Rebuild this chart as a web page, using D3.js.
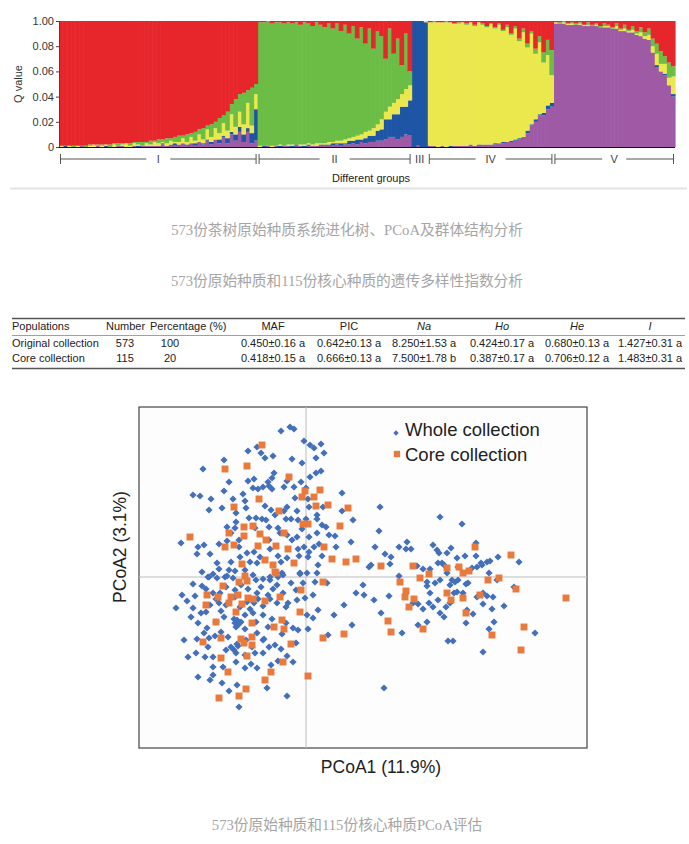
<!DOCTYPE html>
<html>
<head>
<meta charset="utf-8">
<script src="https://cdn.jsdelivr.net/npm/d3@7"></script>
<style>
  body { margin: 0; background: #fff; }
  svg text { font-family: 'Liberation Sans', Arial, sans-serif; }
  .caption { font-family: 'Liberation Serif', 'Noto Sans CJK SC', serif; fill: #a5a5a5; font-size: 14.7px; }
</style>
</head>
<body>
<script>
// ---------------- data ----------------
// structure plot: every row is one individual, membership (%) in clusters [r, g, y, b, p]
const clusterKeys = ['p', 'b', 'y', 'g', 'r']; // stacking order, bottom -> top
const clusterColors = { r: '#E6262B', g: '#6BBD45', y: '#EAE84C', b: '#1F55A5', p: '#9F5AA5' };
const groupNames = ['I', 'II', 'III', 'IV', 'V'];
const qTickValues = [0, 0.2, 0.4, 0.6, 0.8, 1];
const qTickLabels = ['0', '0.02', '0.04', '0.06', '0.08', '1.00'];

const groupI = [
  [99,0,1,0,0],[99,0,0,1,0],[99,0,1,0,0],[99,1,0,0,0],[99,0,1,0,0],[99,0,0,0,1],[99,1,0,0,0],
  [98,1,1,0,0],[98,0,2,0,0],[98,1,0,0,1],[98,1,1,0,0],[98,0,1,1,0],[98,2,0,0,0],
  [97,1,2,0,0],[97,2,0,0,1],[97,1,1,0,1],[97,0,3,0,0],[97,2,1,0,0],
  [96,1,2,0,1],[96,2,1,1,0],[96,3,0,0,1],[96,1,2,0,1],[95,3,1,0,1],[95,1,3,0,1],
  [94,3,2,0,1],[94,2,1,1,2],[93,4,2,0,1],[93,2,3,0,2],[92,4,1,2,1],[91,5,2,0,2],[91,2,4,0,3],
  [90,6,2,1,1],[89,3,5,0,3],[88,7,2,2,1],[86,4,6,0,4],[85,9,3,1,2],[83,3,8,1,5],[82,10,4,2,2],
  [80,5,9,0,6],[77,12,5,3,3],[75,6,10,1,8],[72,15,6,4,3],[66,8,14,2,10],[62,22,6,5,5],
  [58,14,12,4,12],[57,25,8,6,4],[55,10,20,3,12],[53,30,6,8,3],[50,8,12,25,5]
];
const groupII = [
  [1,98,1,0,0],[1,98,0,1,0],[0,99,0,0,1],[2,97,1,0,0],[1,98,0,0,1],[1,97,1,1,0],[2,97,0,0,1],
  [1,97,1,0,1],[2,96,1,1,0],[1,97,0,1,1],[3,95,1,0,1],[1,97,1,1,0],[2,95,1,1,1],[4,94,1,0,1],
  [1,96,2,0,1],[3,94,1,1,1],[5,92,1,1,1],[2,94,2,1,1],[6,90,1,2,1],[2,93,2,1,2],[8,87,2,2,1],
  [3,91,3,1,2],[10,83,2,3,2],[4,88,3,2,3],[14,77,3,4,2],[5,85,4,2,4],[18,70,5,4,3],[6,81,4,5,4],
  [22,63,6,5,4],[8,74,5,8,5],[12,66,8,9,5],[30,42,6,16,6],[6,62,10,14,8],[26,39,9,18,8],
  [14,48,12,20,6],[35,23,10,24,8],[10,44,14,22,10],[40,11,12,28,9]
];
const groupIII = [[0,0,0,100,0],[0,0,0,99,1],[0,0,0,100,0],[0,0,1,99,0]];
const groupIV = [
  [1,0,98,0,1],[0,1,98,0,1],[1,0,99,0,0],[1,0,98,0,1],[0,1,99,0,0],[1,0,98,1,0],[2,0,97,0,1],
  [1,1,97,0,1],[1,0,98,0,1],[2,1,96,0,1],[1,0,97,0,2],[3,1,95,0,1],[1,0,97,1,1],[2,1,95,0,2],
  [4,1,93,0,2],[2,0,96,0,2],[5,1,91,1,2],[2,1,94,0,3],[7,1,88,1,3],[3,2,91,0,4],[10,1,84,1,4],
  [4,2,88,1,5],[14,2,77,1,6],[6,3,83,0,8],[18,3,66,2,11],[8,2,72,1,17],[22,4,52,2,20],
  [12,5,57,1,25],[25,8,40,2,25],[15,12,40,3,30],[23,20,22,3,32]
];
const groupV = [
  [1,0,1,0,98],[1,1,0,0,98],[0,1,1,0,98],[2,0,1,0,97],[1,1,1,0,97],[2,1,0,0,97],[1,1,1,0,97],
  [3,0,1,0,96],[1,2,1,0,96],[3,1,0,0,96],[2,1,1,0,96],[4,1,0,0,95],[2,2,1,0,95],[3,1,1,0,95],
  [5,1,0,0,94],[2,2,2,0,94],[6,1,1,0,92],[3,3,2,0,92],[7,1,1,0,91],[4,3,2,0,91],[8,2,1,0,89],
  [5,4,3,0,88],[9,3,2,0,86],[6,5,4,0,85],[14,6,5,0,75],[18,8,9,2,63],[24,10,6,0,60],
  [28,6,8,1,57],[33,12,6,0,49],[36,8,14,2,40]
];

// table
const tableHeader = ['Populations', 'Number', 'Percentage (%)', 'MAF', 'PIC', 'Na', 'Ho', 'He', 'I'];
const italicHeaders = ['Na', 'Ho', 'He', 'I'];
const originalRow = ['Original collection', '573', '100', '0.450±0.16 a', '0.642±0.13 a', '8.250±1.53 a', '0.424±0.17 a', '0.680±0.13 a', '1.427±0.31 a'];
const coreRow = ['Core collection', '115', '20', '0.418±0.15 a', '0.666±0.13 a', '7.500±1.78 b', '0.387±0.17 a', '0.706±0.12 a', '1.483±0.31 a'];

// PCoA scores (PCoA1, PCoA2)
const wholeCollection = [
  [-1.6,15.0],[-1.2,14.8],[-2.5,14.6],[-0.2,13.6],[0.4,13.2],[0.8,12.9],[1.5,13.3],[1.8,12.4],[-4.9,13.0],[-4.5,12.4],
  [-5.8,12.6],[-4.1,11.9],[-3.3,12.1],[-1.4,11.8],[-0.4,11.4],[1.0,11.9],[-8.2,11.7],[-10.3,10.8],[1.5,10.6],[1.0,10.4],
  [0.4,10.0],[-0.5,9.5],[0.0,8.9],[-3.2,10.4],[-3.4,9.9],[-3.8,9.5],[-5.2,9.8],[-5.8,9.6],[-7.7,9.5],[-8.2,8.6],
  [-11.3,8.2],[-10.6,8.1],[-9.5,7.8],[-9.7,6.7],[-8.4,6.9],[-7.3,7.8],[-6.3,8.3],[-6.1,7.6],[-5.3,8.9],[-4.8,8.8],
  [-4.3,9.0],[-3.7,9.1],[-3.4,8.8],[-2.2,9.0],[-1.9,9.6],[-1.2,9.0],[-1.1,7.9],[0.2,7.8],[0.3,7.0],[1.7,7.0],
  [1.1,6.2],[1.1,5.8],[1.6,5.2],[2.0,5.0],[3.6,8.4],[3.6,6.6],[2.9,4.1],[4.5,3.5],[-4.1,7.1],[-3.5,6.7],
  [-3.1,6.2],[-2.2,6.6],[-1.9,7.0],[-2.0,5.8],[-1.5,5.8],[-0.9,6.6],[-0.8,5.7],[0.0,5.8],[-6.0,6.9],[-5.7,5.9],
  [-5.0,5.9],[-4.4,5.8],[-4.0,5.7],[-7.0,6.4],[-7.0,5.5],[-7.1,4.9],[-7.9,5.0],[-7.5,4.4],[-6.7,3.7],[-5.1,4.9],
  [-3.7,5.0],[-2.8,4.9],[-2.6,4.4],[-1.9,4.2],[-1.4,3.7],[-0.9,4.0],[-0.4,4.8],[0.3,4.0],[1.1,4.4],[1.3,3.3],
  [0.8,3.0],[0.3,2.5],[-0.2,3.0],[-12.5,3.4],[-10.8,3.0],[-10.2,3.2],[-10.9,2.3],[-9.6,2.3],[-8.7,3.3],[-7.9,3.6],
  [-6.7,3.0],[-8.9,1.4],[-8.7,0.8],[-7.5,1.5],[-6.6,2.0],[-5.9,2.4],[-5.2,2.5],[-4.9,1.4],[-3.7,3.7],[-3.6,2.8],
  [-2.8,2.1],[-2.5,1.5],[-1.9,1.9],[-0.8,2.8],[-0.6,0.4],[-2.4,0.4],[-3.6,0.0],[-5.3,0.2],[-6.1,0.7],[-7.1,0.6],
  [-8.1,0.0],[-9.8,0.0],[-10.4,0.5],[-9.3,0.3],[-7.7,0.7],[-4.6,2.0],[-5.6,1.5],[-0.7,2.1],[0.2,2.0],[1.6,2.1],
  [1.2,1.2],[1.1,0.4],[0.1,0.4],[2.3,4.2],[3.0,3.0],
  [-9.7,0.0],[-8.9,-0.1],[-7.9,0.1],[-7.3,-0.1],[-5.0,-0.3],[-4.3,-0.2],[-3.6,-0.3],[-2.3,0.2],[-0.6,0.3],[0.9,-0.5],
  [2.1,-0.6],[5.0,-1.6],[-11.3,-0.7],[-10.4,-0.9],[-12.4,-1.8],[-11.1,-1.9],[-9.3,-1.6],[-8.6,-1.6],[-7.1,-1.3],[-4.9,-1.6],
  [-3.8,-1.8],[-2.9,-0.8],[-1.5,-0.6],[0.7,-1.8],[-13.0,-3.1],[-11.3,-3.1],[-10.5,-3.6],[-9.6,-2.8],[-8.7,-2.6],[-7.1,-2.0],
  [-5.9,-2.5],[-5.2,-2.6],[-4.3,-2.9],[-2.9,-2.6],[-1.8,-2.6],[-0.9,-2.3],[-0.1,-2.1],[-11.5,-4.0],[-10.8,-4.6],[-9.9,-5.1],
  [-9.0,-4.5],[-8.2,-4.0],[-7.2,-4.2],[-6.9,-4.3],[-6.1,-3.8],[-5.3,-3.6],[-4.3,-3.8],[-3.4,-4.2],[-2.0,-3.0],[0.1,-3.8],
  [0.7,-4.1],[1.2,-3.3],[2.8,-3.8],[3.8,-2.8],[4.6,-4.8],[-12.2,-6.3],[-10.9,-6.2],[-9.7,-6.1],[-9.1,-5.9],[-7.5,-7.0],
  [-6.9,-6.7],[-6.1,-5.2],[-4.9,-5.6],[-4.3,-6.3],[-3.7,-7.0],[-3.1,-6.8],[-2.4,-5.7],[-1.3,-5.1],[-0.8,-5.3],[0.2,-5.2],
  [2.2,-5.8],[-11.8,-8.0],[-11.0,-7.6],[-10.1,-8.0],[-9.3,-8.0],[-8.0,-7.3],[-7.2,-7.3],[-6.1,-7.8],[-5.1,-7.6],[-4.2,-6.2],
  [-2.8,-8.4],[-1.9,-7.9],[-1.3,-8.5],[-9.3,-9.0],[-8.3,-9.0],[-6.1,-9.1],[-4.9,-9.1],[-10.8,-10.0],[-9.3,-9.8],[-8.4,-10.6],
  [-7.7,-11.4],[-6.9,-10.8],[-3.9,-11.1],[-1.9,-11.9],[-6.7,-13.0],[-9.6,-10.3],[-0.3,-0.6],[-2.8,0.0],
  [-7.1,-4.6],[-6.8,-4.8],[-7.0,-5.0],[-6.5,-4.5],[-7.0,-7.6],[-6.8,-6.9],[-8.0,-1.0],[-6.5,-0.8],[-5.8,-1.2],[-4.5,-1.0],
  [-3.3,-1.2],[-10.0,-1.2],[-9.0,-2.2],[-8.0,-2.8],[-6.6,-3.0],[-5.6,-3.2],[-4.8,-2.2],[-3.6,-2.2],[-2.3,-1.6],[-1.0,-1.3],
  [-11.9,-2.4],[-10.0,-3.5],[-8.5,-3.4],[-5.0,-4.5],[-3.8,-5.0],[-2.0,-4.6],[-8.5,-5.5],[-10.2,-5.6],[-6.0,-6.3],[-7.8,-6.0],
  [-5.4,-7.0],[-4.3,-7.6],[-2.5,-7.2],[-1.0,-6.6],[-9.8,-7.0],[-7.0,-8.5],[-5.5,-8.7],[-3.5,-8.8],
  [4.7,5.7],[7.4,7.0],[7.3,4.6],[6.9,3.0],[7.9,2.3],[8.5,2.0],[8.4,1.3],[6.5,1.2],[6.3,1.0],[9.3,3.0],
  [10.1,3.5],[10.5,2.8],[10.0,2.8],[13.4,6.0],[15.6,5.3],[12.7,3.2],[13.1,2.7],[13.3,2.4],[14.1,2.4],[14.5,2.9],
  [15.1,1.9],[15.9,2.1],[17.0,3.4],[17.0,2.1],[17.5,1.4],[18.1,1.5],[18.4,1.6],[19.2,2.0],[21.3,1.5],[9.3,0.1],
  [11.1,1.1],[11.7,0.8],[12.1,-0.5],[12.4,0.8],[12.9,-0.6],[13.2,1.4],[13.6,1.4],[13.8,1.2],[14.1,0.4],[14.6,-0.3],
  [14.4,-0.8],[14.9,-0.5],[15.2,-0.3],[16.0,-0.7],[16.2,-0.6],[16.6,0.9],[17.1,1.0],[17.6,1.2],[18.3,0.4],[19.1,-0.3],
  [20.8,-1.0],[5.7,-0.8],[5.8,-1.8],[6.8,-2.3],[8.3,-1.9],[7.5,-3.6],[9.6,-5.6],[11.2,-2.7],[11.7,-3.2],[12.1,-0.9],
  [12.4,-1.6],[12.3,-2.6],[12.7,-3.0],[13.2,-2.3],[13.4,-3.6],[13.8,-4.0],[14.0,-3.0],[14.4,-2.6],[14.8,-1.6],[15.1,-1.5],
  [15.7,-1.6],[16.1,-3.3],[16.0,-4.6],[16.7,-3.7],[17.1,-2.0],[17.7,-2.7],[17.7,-1.6],[18.1,-1.9],[18.7,-2.0],[18.6,-3.2],
  [18.8,-4.5],[18.3,-5.2],[19.8,-2.9],[22.9,-5.6],[14.2,-6.4],[14.7,-6.4],[17.7,-7.5],[7.8,-11.1],[10.7,-2.6],[11.2,-4.8],
  [12.1,-4.5],[13.4,-0.3],[15.2,1.0]
];
const coreCollection = [
  [-4.4,13.2],[-5.9,11.1],[-8.1,10.8],[-1.7,10.0],[-0.1,8.6],[1.4,8.7],[-0.4,8.0],[0.8,8.0],[-4.7,7.8],[-7.2,7.0],
  [1.0,7.1],[2.2,7.2],[4.2,6.9],[-2.7,6.6],[-6.2,5.0],[-5.3,5.1],[-0.3,5.3],[0.2,5.3],[3.4,5.1],[-7.7,4.4],
  [-6.2,4.1],[-4.6,4.3],[-4.0,3.7],[-2.2,4.4],[-11.6,4.0],[-8.1,3.0],[-7.2,3.2],[-4.8,3.1],[-3.0,3.1],[-1.8,2.8],
  [1.8,3.0],[2.6,1.8],[4.0,1.5],[5.0,1.8],[-6.4,1.3],[-4.1,1.7],[-3.3,1.2],[-1.2,1.4],[-3.1,0.5],[-6.1,0.1],
  [-3.0,0.4],[-6.7,-0.5],[-5.9,-0.4],[-8.3,-0.9],[-9.9,-1.8],[-8.8,-2.0],[-7.5,-2.0],[-6.8,-1.8],[-5.8,-2.1],[-5.3,-2.2],
  [-4.1,-2.4],[-2.6,-2.0],[-0.5,-1.3],[1.7,-0.5],[-10.0,-2.8],[-7.7,-2.6],[-6.4,-2.7],[-7.0,-3.5],[-9.0,-4.5],[-5.4,-4.6],
  [-2.4,-4.3],[-3.2,-5.0],[-2.2,-5.2],[3.8,-5.7],[1.7,-6.1],[-10.3,-6.5],[-8.5,-6.1],[-6.5,-6.2],[-6.2,-6.6],[-5.4,-6.0],
  [-5.4,-6.8],[-1.5,-6.7],[-5.9,-7.9],[-8.5,-8.1],[-2.3,-8.5],[-7.8,-9.5],[-3.5,-9.5],[-4.1,-10.3],[0.2,-9.9],[-6.0,-11.2],
  [-8.7,-12.1],[-6.7,-11.9],[-0.6,-3.5],
  [7.5,1.1],[10.7,1.1],[11.4,-0.1],[12.3,0.3],[14.1,0.9],[15.3,1.0],[15.7,0.4],[16.3,0.6],[16.9,3.0],[18.2,-0.3],
  [19.3,-0.1],[20.5,2.2],[21.0,-1.2],[9.4,-0.5],[10.0,-1.4],[9.9,-2.0],[10.8,-2.2],[10.3,-3.0],[8.2,-4.4],[8.5,-5.5],
  [11.7,-5.2],[14.1,-1.6],[14.5,-2.3],[15.7,-2.1],[16.0,-3.6],[17.4,-1.8],[18.6,-5.8],[21.8,-5.0],[21.5,-7.3],[26.0,-2.1]
];
const legendLabels = ['Whole collection', 'Core collection'];
const captions = [
  '573份茶树原始种质系统进化树、PCoA及群体结构分析',
  '573份原始种质和115份核心种质的遗传多样性指数分析',
  '573份原始种质和115份核心种质PCoA评估'
];

// ---------------- svg ----------------
const svg = d3.select('body')
  .append('svg')
  .attr('width', 689)
  .attr('height', 844);

// ================= structure plot =================
const groups = [groupI, groupII, groupIII, groupIV, groupV];
const rows = [];
groups.forEach((g, gi) => g.forEach(q => {
  const total = d3.sum(q);
  rows.push({ id: rows.length, group: gi, r: q[0] / total, g: q[1] / total, y: q[2] / total, b: q[3] / total, p: q[4] / total });
}));

const qx = d3.scaleBand()
  .domain(rows.map(d => d.id))
  .range([59, 675]);
const qy = d3.scaleLinear()
  .domain([0, 1])
  .range([147, 21]);

const series = d3.stack().keys(clusterKeys)(rows);

svg.append('g')
  .selectAll('g')
  .data(series)
  .enter()
  .append('g')
  .attr('fill', s => clusterColors[s.key])
  .selectAll('rect')
  .data(s => s)
  .enter()
  .append('rect')
  .attr('x', d => qx(d.data.id))
  .attr('width', qx.bandwidth() + 0.6) // little overlap so no white seams
  .attr('y', d => qy(d[1]))
  .attr('height', d => Math.max(0, qy(d[0]) - qy(d[1])));

// axes
const qAxis = d3.axisLeft(qy)
  .tickValues(qTickValues)
  .tickFormat((d, i) => qTickLabels[i])
  .tickSize(3)
  .tickPadding(2);
const qAxisGroup = svg.append('g')
  .attr('transform', 'translate(59, 0)')
  .call(qAxis);
qAxisGroup.selectAll('text').attr('font-size', 11).attr('fill', '#333');
qAxisGroup.selectAll('line, path').attr('stroke', '#444');

svg.append('line')
  .attr('x1', 59).attr('x2', 675)
  .attr('y1', qy(0) + 0.5).attr('y2', qy(0) + 0.5)
  .attr('stroke', '#111').attr('stroke-width', 1.2);

svg.append('text')
  .attr('transform', `translate(22, ${qy(0.5)}) rotate(-90)`)
  .attr('text-anchor', 'middle')
  .attr('font-size', 11)
  .attr('fill', '#333')
  .text('Q value');

// group brackets under the bars (group III is too narrow: label only)
const bracketY = 159;
const brackets = svg.append('g').attr('stroke', '#555').attr('stroke-width', 1);
groupNames.forEach((name, gi) => {
  const ids = rows.filter(d => d.group === gi).map(d => d.id);
  const x0 = qx(ids[0]) + 1.5;
  const x1 = qx(ids[ids.length - 1]) + qx.bandwidth() - 1.5;
  const cx = (x0 + x1) / 2;
  const gap = name.length * 3 + 9;
  if (x1 - x0 > 2 * gap) {
    brackets.append('line').attr('x1', x0).attr('x2', x0).attr('y1', bracketY - 5).attr('y2', bracketY + 5);
    brackets.append('line').attr('x1', x1).attr('x2', x1).attr('y1', bracketY - 5).attr('y2', bracketY + 5);
    brackets.append('line').attr('x1', x0).attr('x2', cx - gap).attr('y1', bracketY).attr('y2', bracketY);
    brackets.append('line').attr('x1', cx + gap).attr('x2', x1).attr('y1', bracketY).attr('y2', bracketY);
  }
  svg.append('text')
    .attr('x', cx).attr('y', bracketY + 4)
    .attr('text-anchor', 'middle')
    .attr('font-size', 11)
    .attr('fill', '#444')
    .text(name);
});

svg.append('text')
  .attr('x', 371).attr('y', 182)
  .attr('text-anchor', 'middle')
  .attr('font-size', 11)
  .attr('fill', '#222')
  .text('Different groups');

// separator
svg.append('line')
  .attr('x1', 10).attr('x2', 687)
  .attr('y1', 188.5).attr('y2', 188.5)
  .attr('stroke', '#e3e3e3').attr('stroke-width', 2);

// captions
const captionY = [235, 286, 830];
captions.forEach((c, i) => {
  svg.append('text')
    .attr('class', 'caption')
    .attr('x', 347).attr('y', captionY[i])
    .attr('text-anchor', 'middle')
    .text(c);
});

// ================= table =================
const table = svg.append('g').attr('font-size', 11).attr('fill', '#222');
const colX = [12, 125, 170, 273, 349, 424, 502, 577, 650];
const colAnchor = ['start', 'middle', 'middle', 'middle', 'middle', 'middle', 'middle', 'middle', 'middle'];
const headerX = [12, 106, 150, 273, 349, 424, 502, 577, 650];
const headerAnchor = ['start', 'start', 'start', 'middle', 'middle', 'middle', 'middle', 'middle', 'middle'];

table.append('line').attr('x1', 12).attr('x2', 685).attr('y1', 318.5).attr('y2', 318.5)
  .attr('stroke', '#555').attr('stroke-width', 1.3);
table.append('line').attr('x1', 12).attr('x2', 685).attr('y1', 335.5).attr('y2', 335.5)
  .attr('stroke', '#888').attr('stroke-width', 0.8);
table.append('line').attr('x1', 12).attr('x2', 685).attr('y1', 368.5).attr('y2', 368.5)
  .attr('stroke', '#555').attr('stroke-width', 1.3);

tableHeader.forEach((h, i) => {
  table.append('text')
    .attr('x', headerX[i]).attr('y', 330)
    .attr('text-anchor', headerAnchor[i])
    .attr('font-style', italicHeaders.includes(h) ? 'italic' : 'normal')
    .text(h);
});
[originalRow, coreRow].forEach((row, ri) => {
  row.forEach((v, i) => {
    table.append('text')
      .attr('x', colX[i]).attr('y', 347 + ri * 15)
      .attr('text-anchor', colAnchor[i])
      .text(v);
  });
});

// ================= PCoA scatter =================
const frame = { left: 139, right: 587, top: 407, bottom: 748 };
const px = d3.scaleLinear()
  .domain([-16.7, 28.1])
  .range([frame.left, frame.right]);
const py = d3.scaleLinear()
  .domain([-17.1, 17.0])
  .range([frame.bottom, frame.top]);

svg.append('rect')
  .attr('x', frame.left).attr('y', frame.top)
  .attr('width', frame.right - frame.left).attr('height', frame.bottom - frame.top)
  .attr('fill', '#fdfdfd')
  .attr('stroke', '#444').attr('stroke-width', 1.2);

// zero lines
svg.append('line')
  .attr('x1', px(0)).attr('x2', px(0))
  .attr('y1', frame.top).attr('y2', frame.bottom)
  .attr('stroke', '#bdbdbd');
svg.append('line')
  .attr('x1', frame.left).attr('x2', frame.right)
  .attr('y1', py(0)).attr('y2', py(0))
  .attr('stroke', '#bdbdbd');

const diamond = d3.symbol(d3.symbolSquare, 26);
const square = d3.symbol(d3.symbolSquare, 48);

svg.append('g')
  .selectAll('path')
  .data(wholeCollection)
  .enter()
  .append('path')
  .attr('d', diamond)
  .attr('transform', d => `translate(${px(d[0])}, ${py(d[1])}) rotate(45)`)
  .attr('fill', '#4470BA');

svg.append('g')
  .selectAll('path')
  .data(coreCollection)
  .enter()
  .append('path')
  .attr('d', square)
  .attr('transform', d => `translate(${px(d[0])}, ${py(d[1])})`)
  .attr('fill', '#E77A3C');

// legend
const legend = svg.append('g').attr('transform', 'translate(396, 0)');
legend.append('path').attr('d', d3.symbol(d3.symbolSquare, 14)).attr('transform', 'translate(0, 433) rotate(45)').attr('fill', '#4470BA');
legend.append('path').attr('d', d3.symbol(d3.symbolSquare, 40)).attr('transform', 'translate(1, 454)').attr('fill', '#E77A3C');
legendLabels.forEach((l, i) => {
  legend.append('text')
    .attr('x', 9).attr('y', 436 + i * 25)
    .attr('font-size', 18.5)
    .attr('fill', '#222')
    .text(l);
});

// axis titles
svg.append('text')
  .attr('x', 381).attr('y', 773)
  .attr('text-anchor', 'middle')
  .attr('font-size', 17.5)
  .attr('fill', '#222')
  .text('PCoA1 (11.9%)');
svg.append('text')
  .attr('transform', `translate(126, 547) rotate(-90)`)
  .attr('text-anchor', 'middle')
  .attr('font-size', 17.5)
  .attr('fill', '#222')
  .text('PCoA2 (3.1%)');
</script>
</body>
</html>
